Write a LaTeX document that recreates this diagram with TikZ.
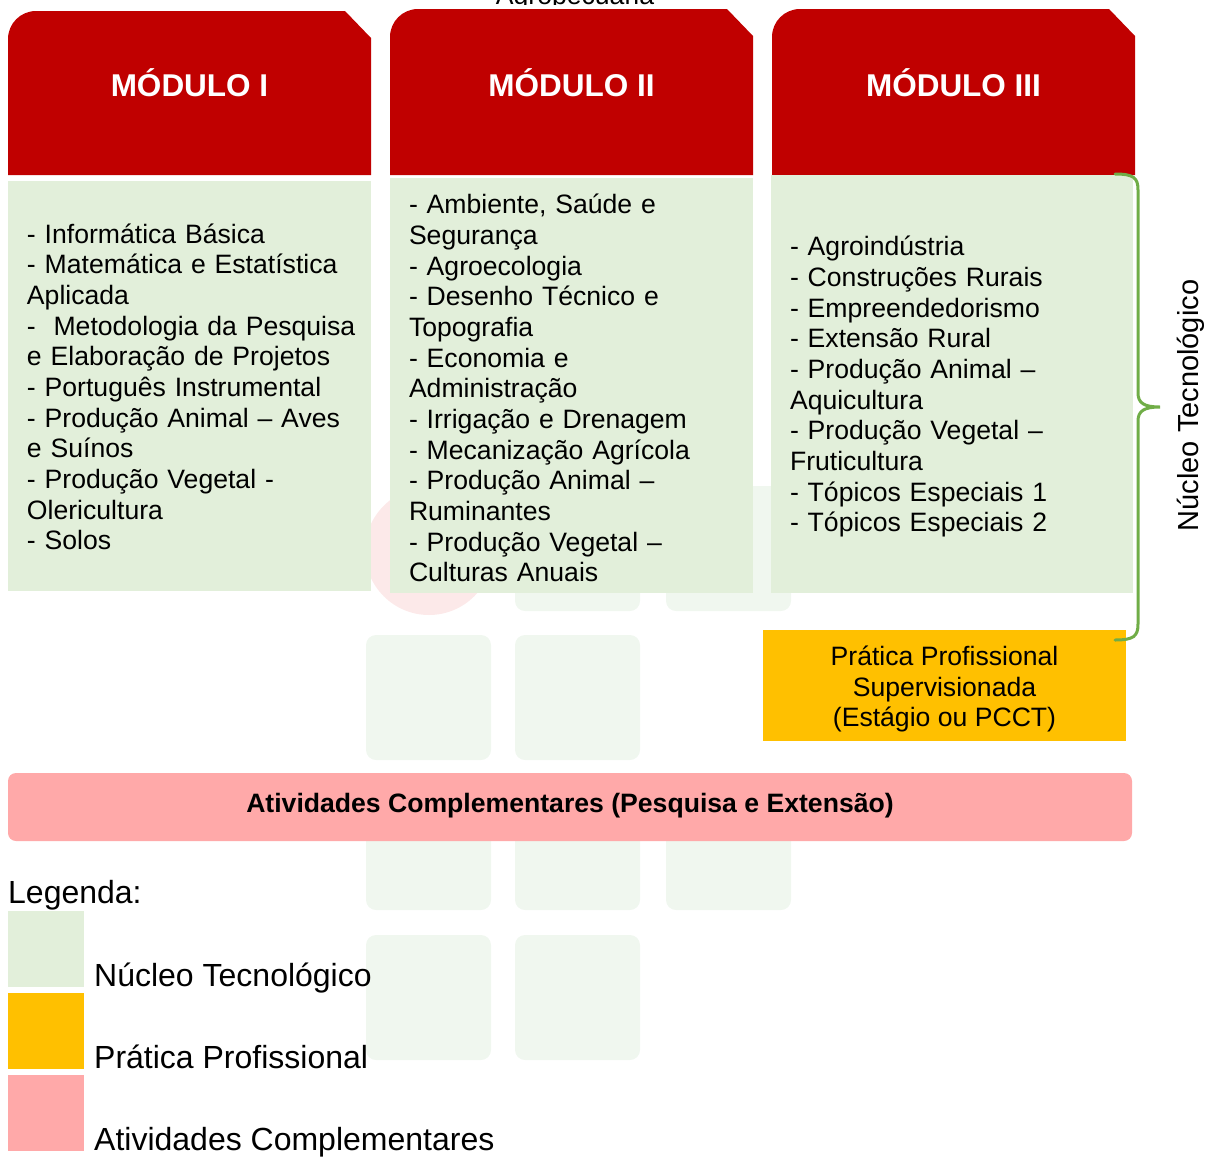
\documentclass[tikz,border=0pt]{standalone}
\usepackage{fontspec}
\setmainfont{Liberation Sans}
\usetikzlibrary{positioning}
\definecolor{ifred}{HTML}{C00000}
\definecolor{nucleo}{HTML}{E2EFDA}
\definecolor{pratica}{HTML}{FFC000}
\definecolor{ativ}{HTML}{FFA9A9}
\definecolor{bracegreen}{HTML}{70AD47}
\definecolor{wmgreen}{HTML}{F0F7EF}
\definecolor{wmred}{HTML}{FCE9E9}

\begin{document}
\begin{tikzpicture}[
        x=1pt, y=-1pt,
        header/.style={text=white, font=\fontsize{31.5pt}{36pt}\selectfont\bfseries},
        core/.style={fill=nucleo, minimum width=363pt, text width=325pt,
                     inner xsep=19pt, align=left, text height=25pt,
                     font=\fontsize{26.6pt}{30.67pt}\selectfont},
        ppbox/.style={fill=pratica, minimum width=363pt, minimum height=111pt,
                      align=center, text height=88pt,
                      font=\fontsize{26.6pt}{30.67pt}\selectfont},
        ativbar/.style={fill=ativ, rounded corners=8pt, minimum width=1124pt,
                        minimum height=68pt, text height=19pt, text depth=9pt,
                        font=\fontsize{26.6pt}{30.67pt}\selectfont\bfseries},
        legkey/.style={minimum size=76pt, inner sep=0pt},
        legtext/.style={inner sep=0pt, anchor=base west,
                        font=\fontsize{32pt}{36pt}\selectfont},
        nucbrace/.style={draw=bracegreen, line width=3pt, line cap=round}
      ]
      \useasboundingbox (0,0) rectangle (1205,1157);
      % faint logo in the background
      \fill[wmred] (429,551) circle[radius=64pt];
      \foreach \wx/\wy in {515/486, 666/486, 366/635, 515/635,
                           366/785, 515/785, 666/785, 366/935, 515/935}
        \fill[wmgreen, rounded corners=10pt] (\wx,\wy) rectangle ++(125,125);
      % course name, cut at the top
      \begin{scope}
        \clip (470,-10) rectangle (680,4.5);
        \node[anchor=base, font=\fontsize{26.6pt}{30.67pt}\selectfont]
          (course) at (575,4) {Agropecuária};
      \end{scope}
      % module headers
      \foreach \x/\ytop/\mo in {8/11/I, 390/9/II, 772/9/III} {
        \fill[ifred] (\x,175) -- (\x,\ytop+28)
          arc[start angle=180, end angle=90, radius=28pt]
          -- (\x+337,\ytop) -- (\x+363,\ytop+27) -- (\x+363,175) -- cycle;
        \node[header] (head\mo) at (\x+181.5,83) {MÓDULO \mo};
      }
      % module contents
      \node[core, minimum height=410pt, text height=21pt] (body1) at (189.5,386)
        {- Informática Básica\\
         - Matemática e Estatística\\
         Aplicada\\
         \mbox{-~ Metodologia da Pesquisa}\\
         e Elaboração de Projetos\\
         - Português Instrumental\\
         - Produção Animal – Aves\\
         e Suínos\\
         - Produção Vegetal -\\
         Olericultura\\
         - Solos};
      \node[core, minimum height=415pt] (body2) at (571.5,385.5)
        {- Ambiente, Saúde e\\
         Segurança\\
         - Agroecologia\\
         - Desenho Técnico e\\
         Topografia\\
         - Economia e\\
         Administração\\
         - Irrigação e Drenagem\\
         - Mecanização Agrícola\\
         - Produção Animal –\\
         Ruminantes\\
         - Produção Vegetal –\\
         Culturas Anuais};
      \node[core, minimum width=362pt, text width=324pt, minimum height=418pt]
        (body3) at (952,384)
        {- Agroindústria\\
         - Construções Rurais\\
         - Empreendedorismo\\
         - Extensão Rural\\
         - Produção Animal –\\
         Aquicultura\\
         - Produção Vegetal –\\
         Fruticultura\\
         - Tópicos Especiais 1\\
         - Tópicos Especiais 2};
      \node[ppbox] (ppsup) at (944.5,685.5)
        {Prática Profissional\\Supervisionada\\(Estágio ou PCCT)};
      % brace for the technological core
      \coordinate (bracetop) at (1115,174);
      \coordinate (bracebot) at (1115,640);
      \draw[nucbrace] (bracetop)
        .. controls (1134,174) and (1138,178) .. (1138,190)
        -- (1138,393)
        .. controls (1138,403) and (1144,407) .. (1160,407) coordinate (bracetip)
        .. controls (1144,407) and (1138,411) .. (1138,421)
        -- (1138,624)
        .. controls (1138,636) and (1134,640) .. (bracebot);
      \node[rotate=90, font=\fontsize{29pt}{33pt}\selectfont]
        (nuclab) at (1191,405.5) {Núcleo Tecnológico};
      \node[ativbar] (ativ) at (570,807)
        {Atividades Complementares (Pesquisa e Extensão)};
      % legend
      \node[legtext] (legtitle) at (8,903) {Legenda:};
      \node[legkey, fill=nucleo]  (key1) at (46,949) {};
      \node[legkey, fill=pratica] (key2) at (46,1031) {};
      \node[legkey, fill=ativ]    (key3) at (46,1113) {};
      \node[legtext] (lab1) at (94,986)  {Núcleo Tecnológico};
      \node[legtext] (lab2) at (94,1068) {Prática Profissional};
      \node[legtext] (lab3) at (94,1150) {Atividades Complementares};
    \end{tikzpicture}
\end{document}
